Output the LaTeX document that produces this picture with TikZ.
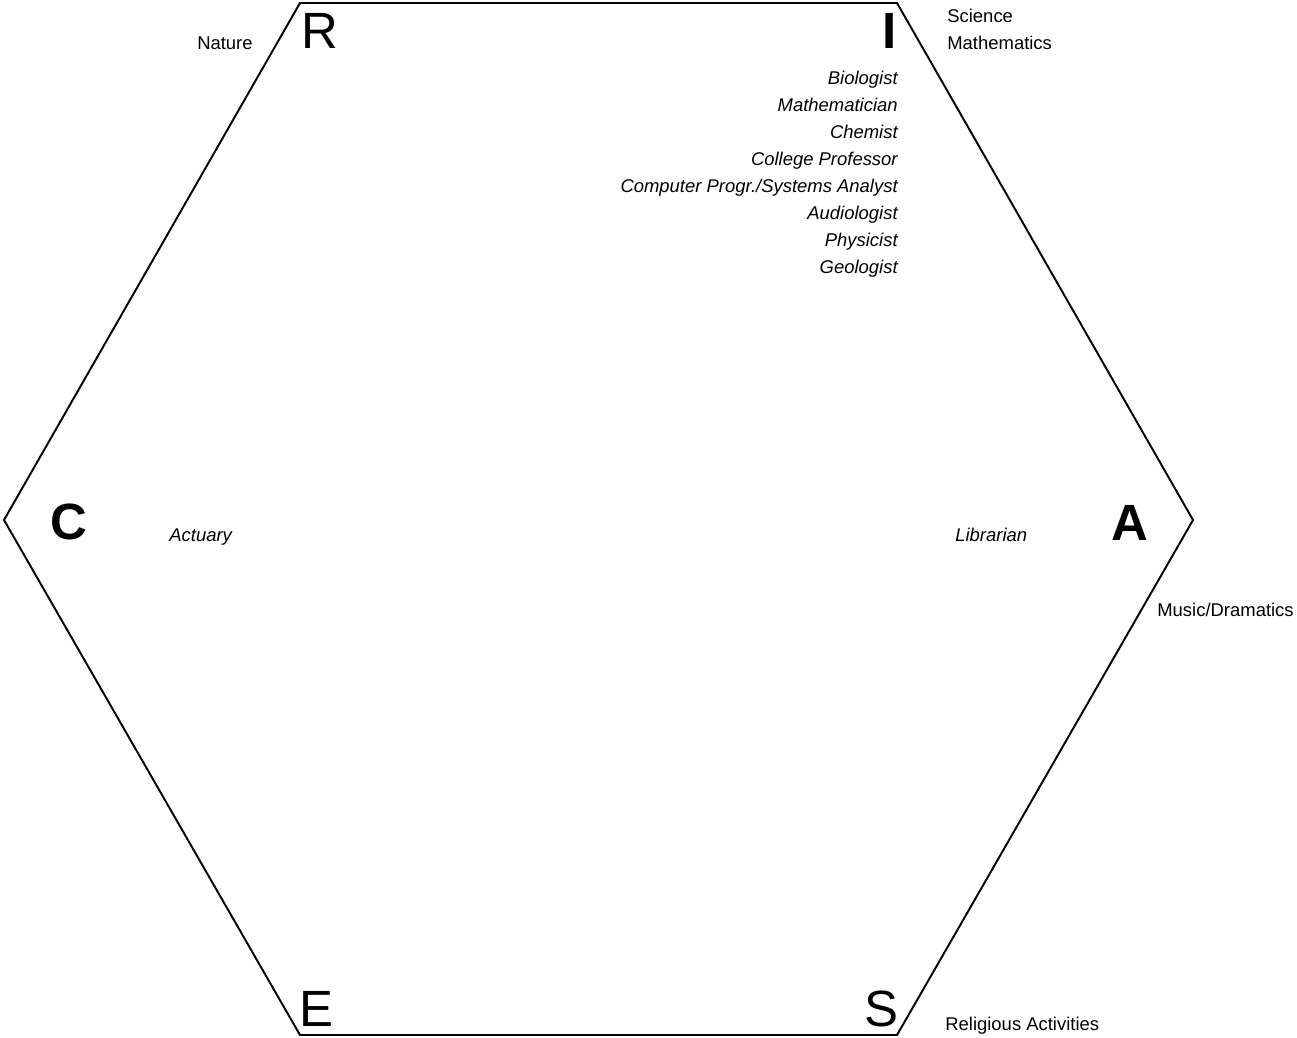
\documentclass[tikz,border=0pt]{standalone}
\usepackage{fontspec}
\setmainfont{Liberation Sans}
\usetikzlibrary{positioning}
\tikzstyle{letter}=[font=\fontsize{29}{30}\selectfont,inner sep=0pt]
\tikzstyle{boldletter}=[inner sep=0pt,font=\fontsize{29}{30}\selectfont\bfseries]
\tikzstyle{topic}=[font=\fontsize{10.5}{12}\selectfont,inner sep=0pt]
\tikzstyle{job}=[inner sep=0pt,anchor=base east,font=\fontsize{10.5}{12}\selectfont\itshape]
\tikzstyle{side}=[draw,line width=1.1pt,line join=miter]

\begin{document}
\begin{tikzpicture}[x=0.02cm,y=-0.02cm]

  \useasboundingbox (0,0) rectangle (1297,1037);

  % corners of the hexagon
  \foreach \x/\y/\name in {300/3/tl, 897/3/tr, 1193/520/rt, 897/1035/br, 300/1035/bl, 4/520/lt}
          \coordinate (\name) at (\x,\y);
  \draw[side] (tl) -- (tr) -- (rt) -- (br) -- (bl) -- (lt) -- cycle;

  % RIASEC letters
  \foreach \x/\y/\name/\label in {320/31/R/R, 316/1009/E/E, 881/1009/S/S}
          \node[letter] (\name) at (\x,\y) {\label};
  \foreach \x/\y/\name/\label in {890/31/I/I, 69/522/C/C, 1130/523/A/A}
          \node[boldletter] (\name) at (\x,\y) {\label};

  % interests
  \node[topic,anchor=base east] (nature) at (253,50) {Nature};
  \node[topic,anchor=base west] (science) at (947,23) {Science};
  \node[topic,anchor=base west] (maths) at (947,50) {Mathematics};
  \node[topic,anchor=base west] (music) at (1157,616) {Music/Dramatics};
  \node[topic,anchor=base west] (religion) at (945,1030) {Religious Activities};

  % occupations
  \foreach \y/\job [count=\i] in {85/Biologist, 112/Mathematician, 139/Chemist, 166/College Professor,
          193/{Computer Progr./Systems Analyst}, 219/Audiologist, 246/Physicist, 273/Geologist}
          \node[job] (job\i) at (898,\y) {\job};
  \node[job,anchor=base west] (actuary) at (169,541) {Actuary};
  \node[job,anchor=base west] (librarian) at (955,541) {Librarian};

\end{tikzpicture}
\end{document}
